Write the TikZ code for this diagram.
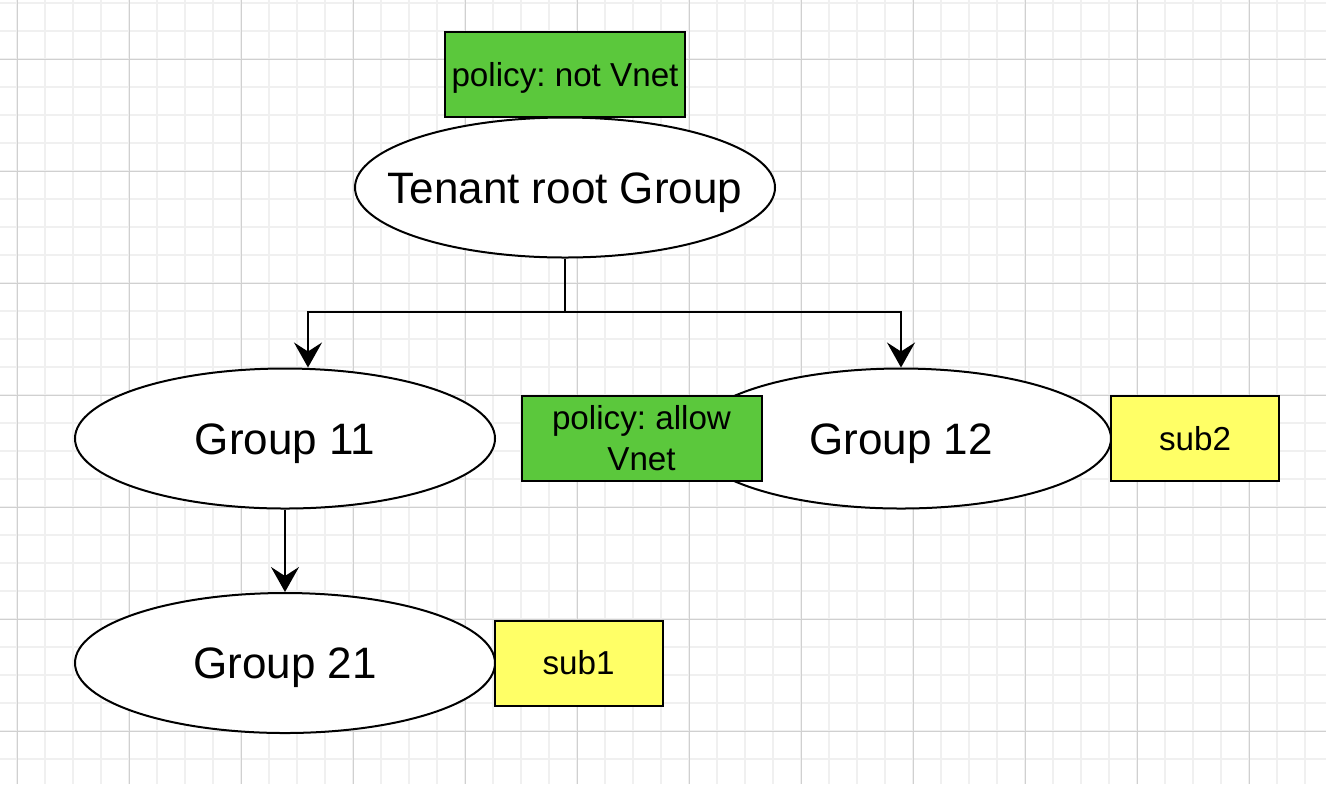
\documentclass[tikz,border=0pt]{standalone}
\usepackage{fontspec}
\setmainfont{Liberation Sans}
\usetikzlibrary{arrows.meta,shapes.geometric}
\definecolor{polgreen}{HTML}{5BC83C}
\definecolor{subyellow}{HTML}{FFFF66}
\definecolor{gridmajor}{HTML}{D0D0D0}
\definecolor{gridminor}{HTML}{F0F0F0}
\frenchspacing

\begin{document}
\begin{tikzpicture}[x=0.5pt,y=-0.5pt,
  grp/.style={ellipse,draw=black,line width=1pt,fill=white,inner xsep=-30pt,inner ysep=0pt,minimum width=210pt,minimum height=70pt,text height=15.8pt,text depth=0pt,font=\fontsize{22}{26}\selectfont},
  pol/.style={draw=black,line width=1pt,fill=polgreen,inner sep=0pt,minimum width=120pt,minimum height=42.5pt,align=center,font=\fontsize{16.6}{20.5}\selectfont},
  subbox/.style={pol,fill=subyellow,minimum width=84pt,text height=11.9pt,text depth=0pt},
  a/.style={-{Stealth[length=12.5pt,width=14pt,inset=4.5pt]},line width=1pt},
  gmin/.style={gridminor,line width=0.75pt},
  gmaj/.style={gridmajor,line width=0.5pt}]
\useasboundingbox (0,0) rectangle (1326,784);
\fill[white] (0,0) rectangle (1326,784);
% background grid
\foreach \x in {17,45,...,1326} \draw[gmin] (\x,0) -- (\x,784);
\foreach \y in {3,31,...,784} \draw[gmin] (0,\y) -- (1326,\y);
\foreach \x in {17,129,...,1326} \draw[gmaj] (\x,0) -- (\x,784);
\foreach \y in {59,171,...,784} \draw[gmaj] (0,\y) -- (1326,\y);
% groups and tags
\node[pol,text height=11.9pt,text depth=0pt] (pnot) at (565,74.5) {policy: not Vnet};
\node[grp] (root) at (565,187.5) {Tenant root Group};
\node[grp] (g11) at (285,438.5) {Group 11};
\node[grp] (g12) at (901,438.5) {Group 12};
\node[pol] (pallow) at (641.5,438.5) {policy: allow\\Vnet};
\node[subbox] (s2) at (1195,438.5) {sub2};
\node[grp] (g21) at (285,663) {Group 21};
\node[subbox] (s1) at (578.5,663) {sub1};
% connectors
\coordinate (split) at (565,312);
\draw[line width=1pt] (root.south) -- (split);
\draw[a] (split) -| ([xshift=11.5pt]g11.north);
\draw[a] (split) -| (g12.north);
\draw[a] (g11.south) -- (g21.north);
\end{tikzpicture}
\end{document}
